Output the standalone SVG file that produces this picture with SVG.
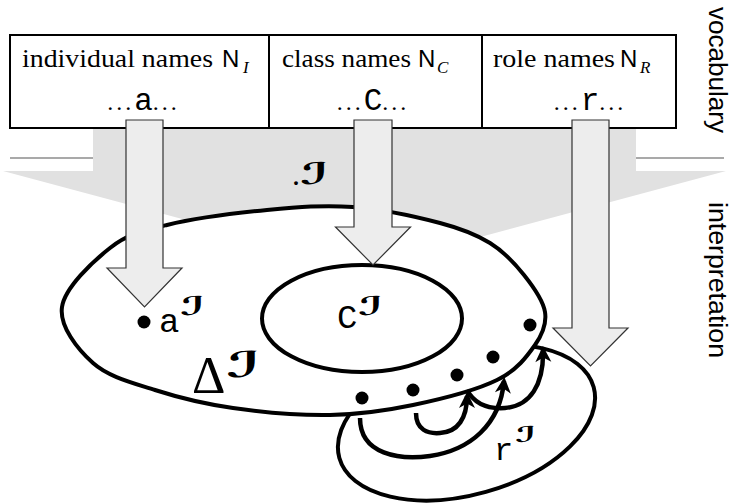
<svg xmlns="http://www.w3.org/2000/svg" width="736" height="503" viewBox="0 0 736 503">
<defs>
<style>
.box{fill:#fff;stroke:#000;stroke-width:2}
.serif{font-family:"Liberation Serif",serif;font-size:25px}
.sf{font-family:"Liberation Sans",sans-serif;font-size:24px}
.sub{font-family:"Liberation Serif",serif;font-style:italic;font-size:17px}
.dots{font-family:"Liberation Serif",serif;font-size:24px;letter-spacing:3px}
.tt{font-family:"Liberation Mono",monospace}
.cal{font-family:"DejaVu Sans",sans-serif;font-weight:bold}
.side{font-family:"Liberation Sans",sans-serif;font-size:26px}
.big{fill:#ededed;stroke:#333;stroke-width:1.2}
.set{fill:none;stroke:#000;stroke-width:4}
.rel{fill:none;stroke:#000;stroke-width:4.5;marker-end:url(#ah)}
.dot{fill:#000}
.sep{stroke:#555;stroke-width:1.2}
</style>
<marker id="ah" markerUnits="userSpaceOnUse" markerWidth="22" markerHeight="20" viewBox="-15 -10 22 20" refX="0" refY="0" orient="auto">
<path d="M4,0 L-12,-8 L-7.5,0 L-12,8 Z" fill="#000"/>
</marker>
</defs>

<g id="backdrop">
<polygon points="93,128 636,128 636,171 726,171 365,268 3,171 93,171" fill="#e1e1e1"/>
<line class="sep" x1="10" y1="158" x2="93" y2="158"/>
<line class="sep" x1="636" y1="158" x2="724" y2="158"/>
<text class="side" transform="translate(709,7) rotate(90)" textLength="126" lengthAdjust="spacingAndGlyphs">vocabulary</text>
<text class="side" transform="translate(709,202) rotate(90)" textLength="156" lengthAdjust="spacingAndGlyphs">interpretation</text>
</g>

<g id="vocabulary">
<rect class="box" x="10" y="35" width="666" height="93"/>
<line stroke="#000" stroke-width="2" x1="269" y1="35" x2="269" y2="128"/>
<line stroke="#000" stroke-width="2" x1="482" y1="35" x2="482" y2="128"/>
</g>

<g id="individual-names">
<text class="serif" x="22" y="67" textLength="191" lengthAdjust="spacingAndGlyphs">individual names</text>
<text class="sf" x="222" y="67">N</text>
<text class="sub" x="243" y="73">I</text>
<text x="143.5" y="110" text-anchor="middle"><tspan class="dots">...</tspan><tspan class="tt" font-size="31">a</tspan><tspan class="dots">...</tspan></text>
</g>

<g id="class-names">
<text class="serif" x="282" y="67" textLength="129" lengthAdjust="spacingAndGlyphs">class names</text>
<text class="sf" x="418" y="67">N</text>
<text class="sub" x="437" y="73">C</text>
<text x="373" y="110" text-anchor="middle"><tspan class="dots">...</tspan><tspan class="tt" font-size="31">C</tspan><tspan class="dots">...</tspan></text>
</g>

<g id="role-names">
<text class="serif" x="493" y="67" textLength="122" lengthAdjust="spacingAndGlyphs">role names</text>
<text class="sf" x="620" y="67">N</text>
<text class="sub" x="640" y="73">R</text>
<text x="590" y="110" text-anchor="middle"><tspan class="dots">...</tspan><tspan class="tt" font-size="31">r</tspan><tspan class="dots">...</tspan></text>
</g>

<g id="interp-label">
<text class="serif" x="292" y="185" style="font-size:32px">.</text>
<text class="cal" transform="translate(300,184) scale(1.6,1)" font-size="30">ℐ</text>
</g>

<g id="connectors-map">
<polygon id="arrow-r" class="big" points="572,120 609,120 609,328 628,328 590.5,366 553,328 572,328"/>
</g>

<g id="role-extension">
<ellipse class="set" cx="466.5" cy="422.5" rx="132" ry="72" transform="rotate(-15.6 466.5 422.5)"/>
</g>

<g id="domain">
<path class="set" style="fill:#fff" d="M62,307 C64.83,287.83 92.5,261.67 110,248 C127.5,234.33 140.83,231.33 167,225 C193.17,218.67 236,213 267,210 C298,207 324.17,204.83 353,207 C381.83,209.17 417.17,217 440,223 C462.83,229 476,234.33 490,243 C504,251.67 514.83,263.5 524,275 C533.17,286.5 543.17,300.33 545,312 C546.83,323.67 543,333.67 535,345 C527,356.33 517.33,370 497,380 C476.67,390 440.83,399.17 413,405 C385.17,410.83 360,414.5 330,415 C300,415.5 262.17,412.17 233,408 C203.83,403.83 178.33,397.5 155,390 C131.67,382.5 108.5,376.83 93,363 C77.5,349.17 59.17,326.17 62,307 Z"/>
<text class="serif" x="192" y="393" style="font-size:52px">Δ</text>
<text class="cal" transform="translate(226,377) scale(1.6,1)" font-size="36">ℐ</text>
</g>

<g id="class-extension">
<ellipse class="set" cx="362" cy="318.5" rx="100" ry="53.5"/>
<text class="tt" x="337" y="328" font-size="34">C</text>
<text class="cal" transform="translate(358,315) scale(1.6,1)" font-size="26">ℐ</text>
</g>

<g id="connectors">
<polygon id="arrow-a" class="big" points="126,120 163,120 163,268 182,268 144.5,307 107,268 126,268"/>
<polygon id="arrow-c" class="big" points="354,120 392,120 392,227 410.5,227 373,265 335.5,227 354,227"/>
<path class="rel" d="M360,418 C360,455 400,460 430,456 C470,450 500,425 504,381"/>
<path class="rel" d="M416,413 C416,430 428,434 440,433 C458,432 467,418 467,396"/>
<path class="rel" d="M467,390 C475,405 490,409 505,408 C530,406 544,385 543,350"/>
</g>

<g id="individual-a">
<circle class="dot" cx="144" cy="322" r="6.5"/>
<text class="tt" x="159" y="332" font-size="34">a</text>
<text class="cal" transform="translate(180,315) scale(1.6,1)" font-size="26">ℐ</text>
</g>

<g id="elements">
<circle class="dot" cx="362" cy="398" r="6.5"/>
<circle class="dot" cx="413" cy="390" r="6.5"/>
<circle class="dot" cx="457" cy="375" r="6.5"/>
<circle class="dot" cx="493" cy="357" r="6.5"/>
<circle class="dot" cx="530" cy="325" r="6.5"/>
</g>

<g id="role-label">
<text class="tt" x="494" y="460" font-size="32">r</text>
<text class="cal" transform="translate(515,442) scale(1.6,1)" font-size="22">ℐ</text>
</g>
</svg>
